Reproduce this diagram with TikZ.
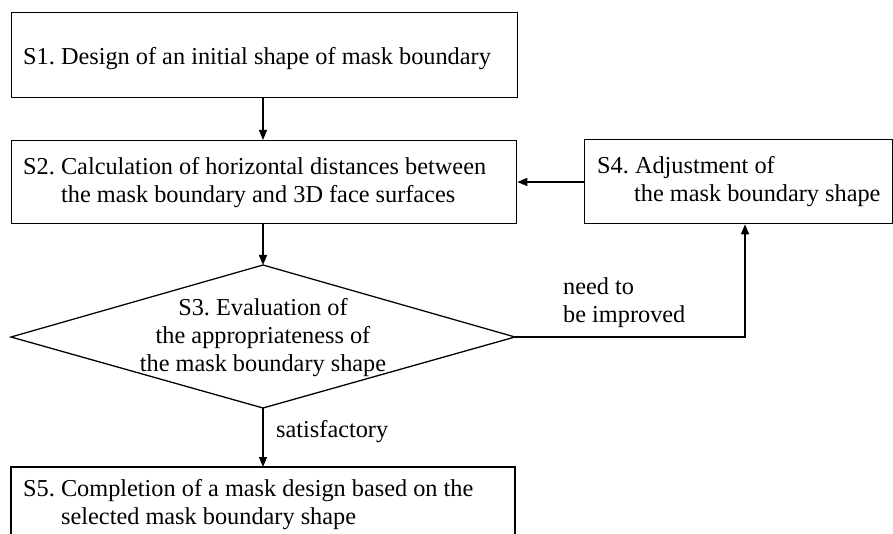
\documentclass[tikz,border=0pt]{standalone}
\usepackage{fontspec}
\setmainfont{Liberation Serif}
\usetikzlibrary{arrows.meta}
\frenchspacing
\begin{document}
\begin{tikzpicture}[x=1pt,y=-1pt,
  box/.style={draw,line width=1.3pt},
  txt/.style={anchor=base west,align=left,inner sep=0pt,font=\fontsize{24.3}{28}\selectfont},
  arr/.style={line width=1.3pt,-{Triangle[length=10pt,width=8pt]}},
  ln/.style={line width=1.3pt}]
\useasboundingbox (0,0) rectangle (893,534);
\node[box,minimum width=506pt,minimum height=85pt,anchor=north west] (s1) at (11,12) {};
\node[txt] (t1) at (23,65) {S1. Design of an initial shape of mask boundary};
\node[box,minimum width=505pt,minimum height=83pt,anchor=north west] (s2) at (11,140) {};
\node[txt] (t2) at (23,203) {S2. Calculation of horizontal distances between\\\hspace*{38pt}the mask boundary and 3D face surfaces};
\node[box,minimum width=308pt,minimum height=84pt,anchor=north west] (s4) at (584,139) {};
\node[txt] (t4) at (597,202) {S4. Adjustment of\\\hspace*{37pt}the mask boundary shape};
\coordinate (dt) at (263,265);
\coordinate (dl) at (11,337);
\coordinate (db) at (263,408);
\coordinate (dr) at (515,337);
\draw[ln] (dt) -- (dr) -- (db) -- (dl) -- cycle;
\node[txt,anchor=base,align=center] (t3) at (263,371) {S3. Evaluation of\\the appropriateness of\\the mask boundary shape};
\draw[ln] (11,545) -- (11,467) coordinate (s5l) -- (515,467) coordinate (s5r) -- (515,545);
\coordinate (s5) at (263,467);
\node[txt] (t5) at (23,524) {S5. Completion of a mask design based on the\\\hspace*{38pt}selected mask boundary shape};
\draw[arr] (s1.south -| dt) -- (s2.north -| dt);
\draw[arr] (s2.south -| dt) -- (dt);
\coordinate (s4in) at (584,182);
\draw[arr] (s4in) -- (s4in -| s2.east);
\coordinate (corner) at (745,337);
\draw[arr] (dr) -- (corner) -- (corner |- s4.south);
\node[txt] (lbl1) at (563,322) {need to\\be improved};
\draw[arr] (db) -- (s5);
\node[txt] (lbl2) at (276,437) {satisfactory};
\end{tikzpicture}
\end{document}
